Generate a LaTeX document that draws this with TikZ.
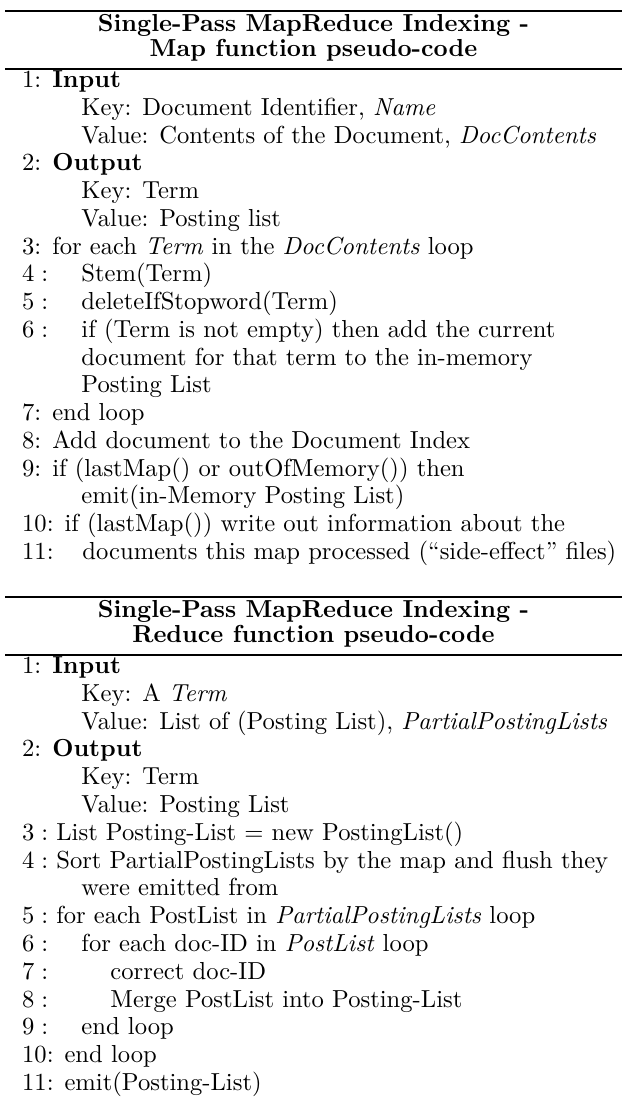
\documentclass[tikz,border=0pt]{standalone}
\begin{document}
\begin{tikzpicture}[x=0.4065pt,y=-0.4065pt,
  rulestyle/.style={line width=1.0pt},
  ln/.style={anchor=base west, inner sep=0pt, font=\normalsize},
  ttl/.style={anchor=base, inner sep=0pt, font=\normalsize\bfseries}]
\useasboundingbox (0,0) rectangle (622,1097);
% column positions: line labels, first and second indentation levels
\def\Lx{21.7}\def\Ax{81}\def\Bx{110}\def\Cx{82}
% baselines: first line and line spacing of each block
\def\my{87.5}\def\ms{27.75}
\def\ry{673.5}\def\rs{27.8}

% ---------------- Map function ----------------
\draw[rulestyle] (5,11) -- (622,11);
\node[ttl] (mt1) at (313.5,31) {Single-Pass MapReduce Indexing -};
\node[ttl] (mt2) at (313.5,56) {Map function pseudo-code};
\draw[rulestyle] (5,69) -- (622,69);

\node[ln] (m1)  at (\Lx,{\my+0*\ms})  {1: \textbf{Input}};
\node[ln] (m1a) at (\Ax,{\my+1*\ms})  {Key: Document Identifier, \textit{Name}};
\node[ln] (m1b) at (\Ax,{\my+2*\ms})  {Value: Contents of the Document, \textit{DocContents}};
\node[ln] (m2)  at (\Lx,{\my+3*\ms})  {2: \textbf{Output}};
\node[ln] (m2a) at (\Ax,{\my+4*\ms})  {Key: Term};
\node[ln] (m2b) at (\Ax,{\my+5*\ms})  {Value: Posting list};
\node[ln] (m3)  at (\Lx,{\my+6*\ms})  {3: for each \textit{Term} in the \textit{DocContents} loop};
\node[ln] (m4)  at (\Lx,{\my+7*\ms})  {$4:$};
\node[ln] (m4t) at (\Ax,{\my+7*\ms})  {Stem(Term)};
\node[ln] (m5)  at (\Lx,{\my+8*\ms})  {$5:$};
\node[ln] (m5t) at (\Ax,{\my+8*\ms})  {deleteIfStopword(Term)};
\node[ln] (m6)  at (\Lx,{\my+9*\ms})  {$6:$};
\node[ln] (m6t) at (\Ax,{\my+9*\ms})  {if (Term is not empty) then add the current};
\node[ln] (m6u) at (\Ax,{\my+10*\ms}) {document for that term to the in-memory};
\node[ln] (m6v) at (\Ax,{\my+11*\ms}) {Posting List};
\node[ln] (m7)  at (\Lx,{\my+12*\ms}) {7: end loop};
\node[ln] (m8)  at (\Lx,{\my+13*\ms}) {8: Add document to the Document Index};
\node[ln] (m9)  at (\Lx,{\my+14*\ms}) {9: if (lastMap() or outOfMemory()) then};
\node[ln] (m9t) at (\Ax,{\my+15*\ms}) {emit(in-Memory Posting List)};
\node[ln] (m10) at (\Lx,{\my+16*\ms}) {10: if (lastMap()) write out information about the};
\node[ln] (m11) at (\Lx,{\my+17*\ms}) {11:};
\node[ln] (m11t) at (\Cx,{\my+17*\ms}) {documents this map processed (“side-effect” files)};

% ---------------- Reduce function ----------------
\draw[rulestyle] (5,597) -- (622,597);
\node[ttl] (rt1) at (313.5,617) {Single-Pass MapReduce Indexing -};
\node[ttl] (rt2) at (313.5,642) {Reduce function pseudo-code};
\draw[rulestyle] (5,655) -- (622,655);

\node[ln] (r1)  at (\Lx,{\ry+0*\rs})  {1: \textbf{Input}};
\node[ln] (r1a) at (\Ax,{\ry+1*\rs})  {Key: A \textit{Term}};
\node[ln] (r1b) at (\Ax,{\ry+2*\rs})  {Value: List of (Posting List), \textit{PartialPostingLists}};
\node[ln] (r2)  at (\Lx,{\ry+3*\rs})  {2: \textbf{Output}};
\node[ln] (r2a) at (\Ax,{\ry+4*\rs})  {Key: Term};
\node[ln] (r2b) at (\Ax,{\ry+5*\rs})  {Value: Posting List};
\node[ln] (r3)  at (\Lx,{\ry+6*\rs})  {$3:$ List Posting-List $=$ new PostingList()};
\node[ln] (r4)  at (\Lx,{\ry+7*\rs})  {$4:$ Sort PartialPostingLists by the map and flush they};
\node[ln] (r4t) at (\Ax,{\ry+8*\rs})  {were emitted from};
\node[ln] (r5)  at (\Lx,{\ry+9*\rs})  {$5:$ for each PostList in \textit{PartialPostingLists} loop};
\node[ln] (r6)  at (\Lx,{\ry+10*\rs}) {$6:$};
\node[ln] (r6t) at (\Ax,{\ry+10*\rs}) {for each doc-ID in \textit{PostList} loop};
\node[ln] (r7)  at (\Lx,{\ry+11*\rs}) {$7:$};
\node[ln] (r7t) at (\Bx,{\ry+11*\rs}) {correct doc-ID};
\node[ln] (r8)  at (\Lx,{\ry+12*\rs}) {$8:$};
\node[ln] (r8t) at (\Bx,{\ry+12*\rs}) {Merge PostList into Posting-List};
\node[ln] (r9)  at (\Lx,{\ry+13*\rs}) {$9:$};
\node[ln] (r9t) at (\Ax,{\ry+13*\rs}) {end loop};
\node[ln] (r10) at (\Lx,{\ry+14*\rs}) {10: end loop};
\node[ln] (r11) at (\Lx,{\ry+15*\rs}) {11: emit(Posting-List)};
\end{tikzpicture}
\end{document}
